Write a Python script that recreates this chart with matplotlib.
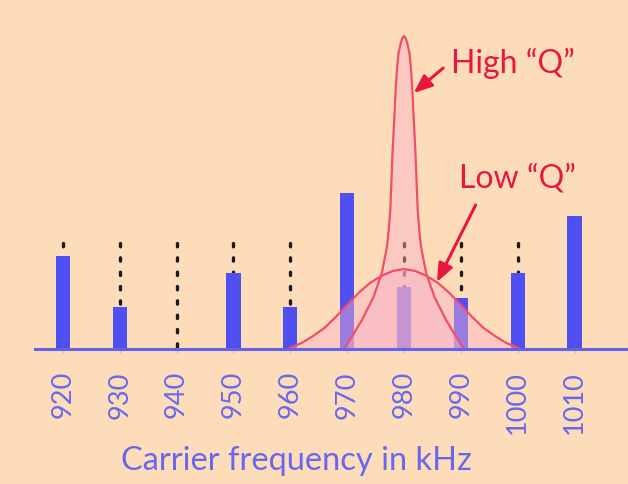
import matplotlib
matplotlib.use("Agg")
import matplotlib.pyplot as plt

# ---- data ----
freqs = [920, 930, 940, 950, 960, 970, 980, 990, 1000, 1010]
bar_heights = [93, 42, 0, 76, 42, 156, 62, 51, 76, 133]
ref_level = 106
tick_labels = [str(f) for f in freqs]

high_q_x = [969.5, 971.0, 972.6, 974.65, 976.1, 977.0, 977.3, 977.6, 977.75, 977.98,
            978.28, 978.56, 978.8, 979.04, 979.4, 979.7, 980.0, 980.3, 980.6, 980.96,
            981.2, 981.44, 981.72, 982.02, 982.25, 982.4, 982.7, 983.0, 983.9, 985.35,
            987.4, 989.0, 990.5]
high_q_y = [0, 14, 29, 52, 76, 102, 118, 140, 162, 196,
            229, 262, 282, 296, 305, 311, 313, 311, 305, 296,
            282, 262, 229, 196, 162, 140, 118, 102, 76, 52,
            29, 14, 0]

low_q_x = [959.5, 960.0, 962.0, 964.0, 966.0, 968.0, 970.0, 972.0, 974.0, 976.0,
           978.0, 980.0, 982.0, 984.0, 986.0, 988.0, 990.0, 992.0, 994.0, 996.0,
           998.0, 1000.0, 1000.5]
low_q_y = [0, 1.5, 6, 13, 21, 32, 44, 56, 66, 73,
           78, 80, 78, 73, 66, 56, 44, 32, 21, 13,
           6, 1.5, 0]

high_label = "High \u201cQ\u201d"
low_label = "Low \u201cQ\u201d"
x_title = "Carrier frequency in kHz"

# ---- style ----
bg = "#fddcba"
blue = "#4f4ff2"
axis_blue = "#6262ea"
label_blue = "#6868ee"
red = "#e8173f"
curve_red = "#f04f66"
fill_col = "#fab4c8"
font = ["Lato", "DejaVu Sans"]

fig = plt.figure(figsize=(6.28, 4.84), dpi=100, facecolor=bg)
ax = fig.add_axes([35 / 628, (484 - 349) / 484, 593 / 628, 329 / 484])
ax.set_facecolor(bg)

# dotted reference lines (drawn from top down)
for f, h in zip(freqs, bar_heights):
    if h < ref_level:
        ax.plot([f, f], [ref_level, h], color="#1a1a1a", lw=2.4,
                linestyle=(0, (1.0, 3.3)), dash_capstyle="round",
                solid_capstyle="round", zorder=1)

ax.bar(freqs, bar_heights, width=2.5, color=blue, zorder=2)

# resonance curves
ax.fill_between(high_q_x, high_q_y, 0, color=fill_col, alpha=0.45, lw=0, zorder=3)
ax.fill_between(low_q_x, low_q_y, 0, color=fill_col, alpha=0.45, lw=0, zorder=3)
ax.plot(high_q_x, high_q_y, color=curve_red, lw=1.6, zorder=4)
ax.plot(low_q_x, low_q_y, color=curve_red, lw=1.6, zorder=4)

# annotations
arrow = dict(arrowstyle="-|>,head_length=1.1,head_width=0.45",
             color=red, lw=2.2, shrinkA=0, shrinkB=0, mutation_scale=10)
ax.text(988.3, 276, high_label, fontsize=23, color=red, family=font,
        ha="left", va="baseline", zorder=5)
ax.annotate("", xy=(981.7, 256), xytext=(986.9, 281), arrowprops=arrow, zorder=5)
ax.text(989.6, 161, low_label, fontsize=23, color=red, family=font,
        ha="left", va="baseline", zorder=5)
ax.annotate("", xy=(985.8, 67), xytext=(992.6, 144), arrowprops=arrow, zorder=5)

ax.set_xlim(915.1, 1019.4)
ax.set_ylim(0, 329)

for s in ["top", "right", "left"]:
    ax.spines[s].set_visible(False)
ax.spines["bottom"].set_color(axis_blue)
ax.spines["bottom"].set_linewidth(2.2)
ax.spines["bottom"].set_zorder(6)

ax.set_yticks([])
ax.set_xticks(freqs)
ax.set_xticklabels(tick_labels, rotation=90, family=font, fontsize=19.5,
                   color=label_blue, va="top")
ax.tick_params(axis="x", length=3, width=0.8, color="#c9b3d6", pad=13)
ax.set_xlabel(x_title, family=font, fontsize=23.5, color=label_blue)
ax.xaxis.set_label_coords(0.44, -0.295)

fig.savefig("out.png", dpi=100, facecolor=bg)
